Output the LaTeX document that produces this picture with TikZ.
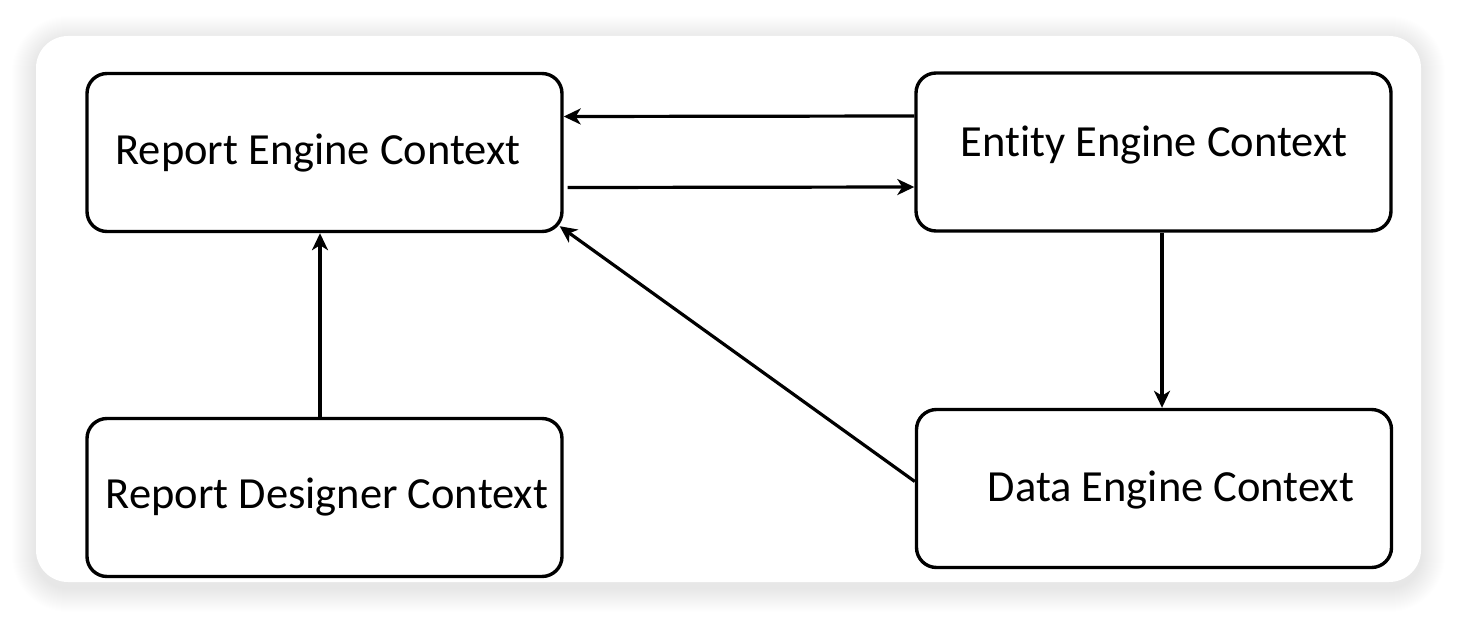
\documentclass[tikz,border=0pt]{standalone}
\usepackage{fontspec}
\setmainfont{Carlito}[Ligatures=NoCommon]
\usetikzlibrary{arrows.meta,calc}
\begin{document}
\begin{tikzpicture}[x=1pt,y=-1pt,
  ctx/.style={draw=black,line width=3.4pt,rounded corners=20pt,fill=white,minimum width=475pt,minimum height=158pt,inner sep=0pt},
  lbl/.style={font=\fontsize{44.5}{52}\selectfont,inner sep=0pt},
  conn/.style={draw=black,line width=3.2pt,-{Stealth[length=17pt,width=16pt,inset=5pt]}}]
\useasboundingbox (0,0) rectangle (1458,618);
\fill[white] (0,0) rectangle (1458,618);
% card shadow
\foreach \i in {1,...,24}{
  \fill[black,opacity=0.0045,rounded corners={32pt+\i pt}] ($(36,40)+(-\i,-\i)$) rectangle ($(1421,588)+(\i,\i)$);
}
\fill[white,rounded corners=32pt] (36,36) rectangle (1421,582);
% boxes
\node[ctx] (rec) at (324.5,152.5) {};
\node[ctx] (eec) at (1153.5,152) {};
\node[ctx] (rdc) at (324.5,497.5) {};
\node[ctx] (dec) at (1154,488.5) {};
% labels
\node[lbl] (recl) at (318,153) {Report Engine Context};
\node[lbl] (eecl) at (1154,145) {Entity Engine Context};
\node[lbl] (rdcl) at (327,497) {Report Designer Context};
\node[lbl] (decl) at (1171,490) {Data Engine Context};
% connectors
\draw[conn] ([yshift=36pt]eec.west) -- ([yshift=36pt]rec.east);
\draw[conn] ([xshift=4pt,yshift=-35pt]rec.east) -- ([yshift=-35pt]eec.west);
\draw[conn] ([xshift=8.5pt]eec.south) -- ([xshift=8pt]dec.north);
\draw[conn] ([yshift=7pt]dec.west) -- ([xshift=-4pt,yshift=7pt]rec.south east);
\draw[conn] ([xshift=-4.5pt]rdc.north) -- ([xshift=-4.5pt]rec.south);
\end{tikzpicture}
\end{document}
